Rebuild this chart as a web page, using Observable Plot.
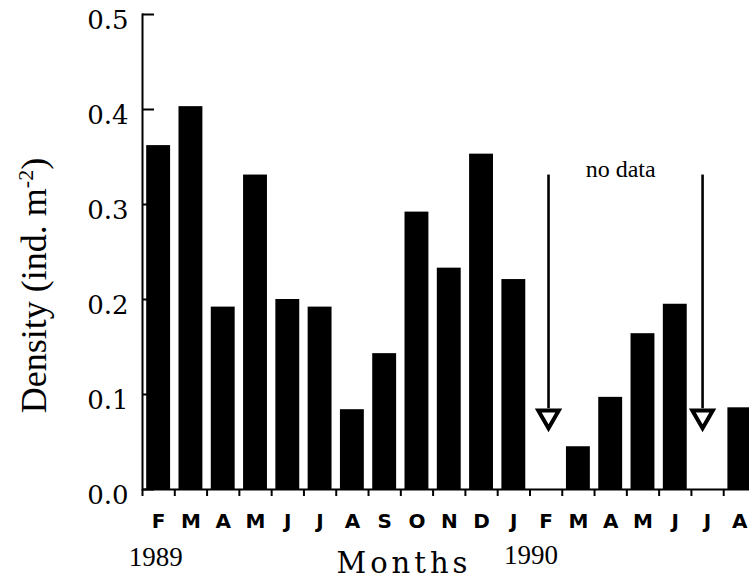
<!DOCTYPE html>
<html>
<head>
<meta charset="utf-8">
<script src="https://cdn.jsdelivr.net/npm/d3@7"></script>
<script src="https://cdn.jsdelivr.net/npm/@observablehq/plot@0.6"></script>
<style>
html, body { margin: 0; padding: 0; background: #fff; overflow: hidden; }
</style>
</head>
<body>
<div id="chart"></div>
<script>
// ---- data ----
const months = ["F","M","A","M","J","J","A","S","O","N","D","J","F","M","A","M","J","J","A"];
const density = [0.362,0.403,0.192,0.331,0.200,0.192,0.084,0.143,0.292,0.233,0.353,0.221,null,0.045,0.097,0.164,0.195,null,0.086];
const yTicks = [0, 0.1, 0.2, 0.3, 0.4, 0.5];
const yearIndex = [0, 12];
const yearText = ["1989", "1990"];
const noDataIndex = [12, 17];
const noDataText = "no data";
const xTitle = "Months";
const yTitle = "Density (ind. m-2)";
const arrowFrom = 0.331, arrowTo = 0.085, arrowHeadAt = 0.077;

// ---- derived tables ----
const keys = months.map((_, i) => String(i));
const bars = keys.map((k, i) => ({k, v: density[i]}));

const marginLeft = 142, width = 749, marginRight = -6.5;
const step = (width - marginRight - marginLeft) / keys.length;

function arrowMarks(idx, dx) {
  const d = [{k: keys[idx]}];
  return [
    Plot.ruleX(d, {x: "k", y1: arrowFrom, y2: arrowTo, stroke: "black", strokeWidth: 2.6, dx}),
    Plot.dot(d, {x: "k", y: arrowHeadAt, symbol: "triangle", r: 7.6, rotate: 180, fill: "white", stroke: "black", strokeWidth: 4, strokeLinejoin: "miter", dx})
  ];
}

const chart = Plot.plot({
  width, height: 579,
  marginLeft, marginRight, marginTop: 14, marginBottom: 90,
  style: {background: "white", color: "black", fontFamily: "DejaVu Serif", overflow: "hidden"},
  x: {domain: keys, paddingInner: 0.26, paddingOuter: 0.13, round: false, axis: null},
  y: {domain: [0, 0.5], axis: null},
  marks: [
    Plot.axisY(yTicks, {tickSize: 12, dx: 12, tickFormat: () => "", strokeWidth: 2, label: null}),
    Plot.barY(bars, {x: "k", y: "v", fill: "black"}),
    Plot.frame({anchor: "left", strokeWidth: 2}),
    Plot.ruleY([0], {strokeWidth: 2}),
    Plot.axisX(keys, {tickSize: 7, dx: -step / 2, tickFormat: () => "", strokeWidth: 2, label: null}),
    // tick labels
    Plot.text(yTicks, {y: d => d, text: d => d.toFixed(1), frameAnchor: "left", textAnchor: "end", dx: -14, dy: 6, fontSize: 26, fontFamily: "DejaVu Serif"}),
    Plot.text(keys, {x: d => d, text: k => months[+k], frameAnchor: "bottom", lineAnchor: "top", dy: 24, fontSize: 20, fontWeight: "bold", fontFamily: "DejaVu Sans"}),
    // years and titles
    Plot.text([yearText[0]], {x: () => keys[yearIndex[0]], frameAnchor: "bottom", dx: -3, dy: 76, lineAnchor: "bottom", fontSize: 27, fontFamily: "Liberation Serif"}),
    Plot.text([yearText[1]], {x: () => keys[yearIndex[1]], frameAnchor: "bottom", dx: -15, dy: 74, lineAnchor: "bottom", fontSize: 27, fontFamily: "Liberation Serif"}),
    Plot.text([xTitle], {x: () => keys[8], frameAnchor: "bottom", dx: -13, dy: 83, lineAnchor: "bottom", fontSize: 29, fontFamily: "DejaVu Serif"}),
    Plot.text([yTitle], {frameAnchor: "left", textAnchor: "middle", rotate: -90, dx: -108.5, dy: 33.5, fontSize: 36, fontFamily: "Liberation Serif"}),
    Plot.text([noDataText], {x: () => keys[14], y: () => 0.329, dx: 10, lineAnchor: "bottom", fontSize: 24, fontFamily: "Liberation Serif"}),
    ...arrowMarks(noDataIndex[0], 2.4),
    ...arrowMarks(noDataIndex[1], -5)
  ]
});

// superscript and letter spacing touch-ups
const sel = d3.select(chart);
sel.selectAll("text").filter(function() { return this.textContent === yTitle; }).each(function() {
  const t = d3.select(this);
  t.text(null);
  t.append("tspan").text("Density (ind. m");
  t.append("tspan").attr("dy", -13).attr("font-size", 22).text("-2");
  t.append("tspan").attr("dy", 13).text(")");
});
sel.selectAll("text").filter(function() { return this.textContent === xTitle; })
  .style("letter-spacing", "4px");

document.getElementById("chart").appendChild(chart);
</script>
</body>
</html>
